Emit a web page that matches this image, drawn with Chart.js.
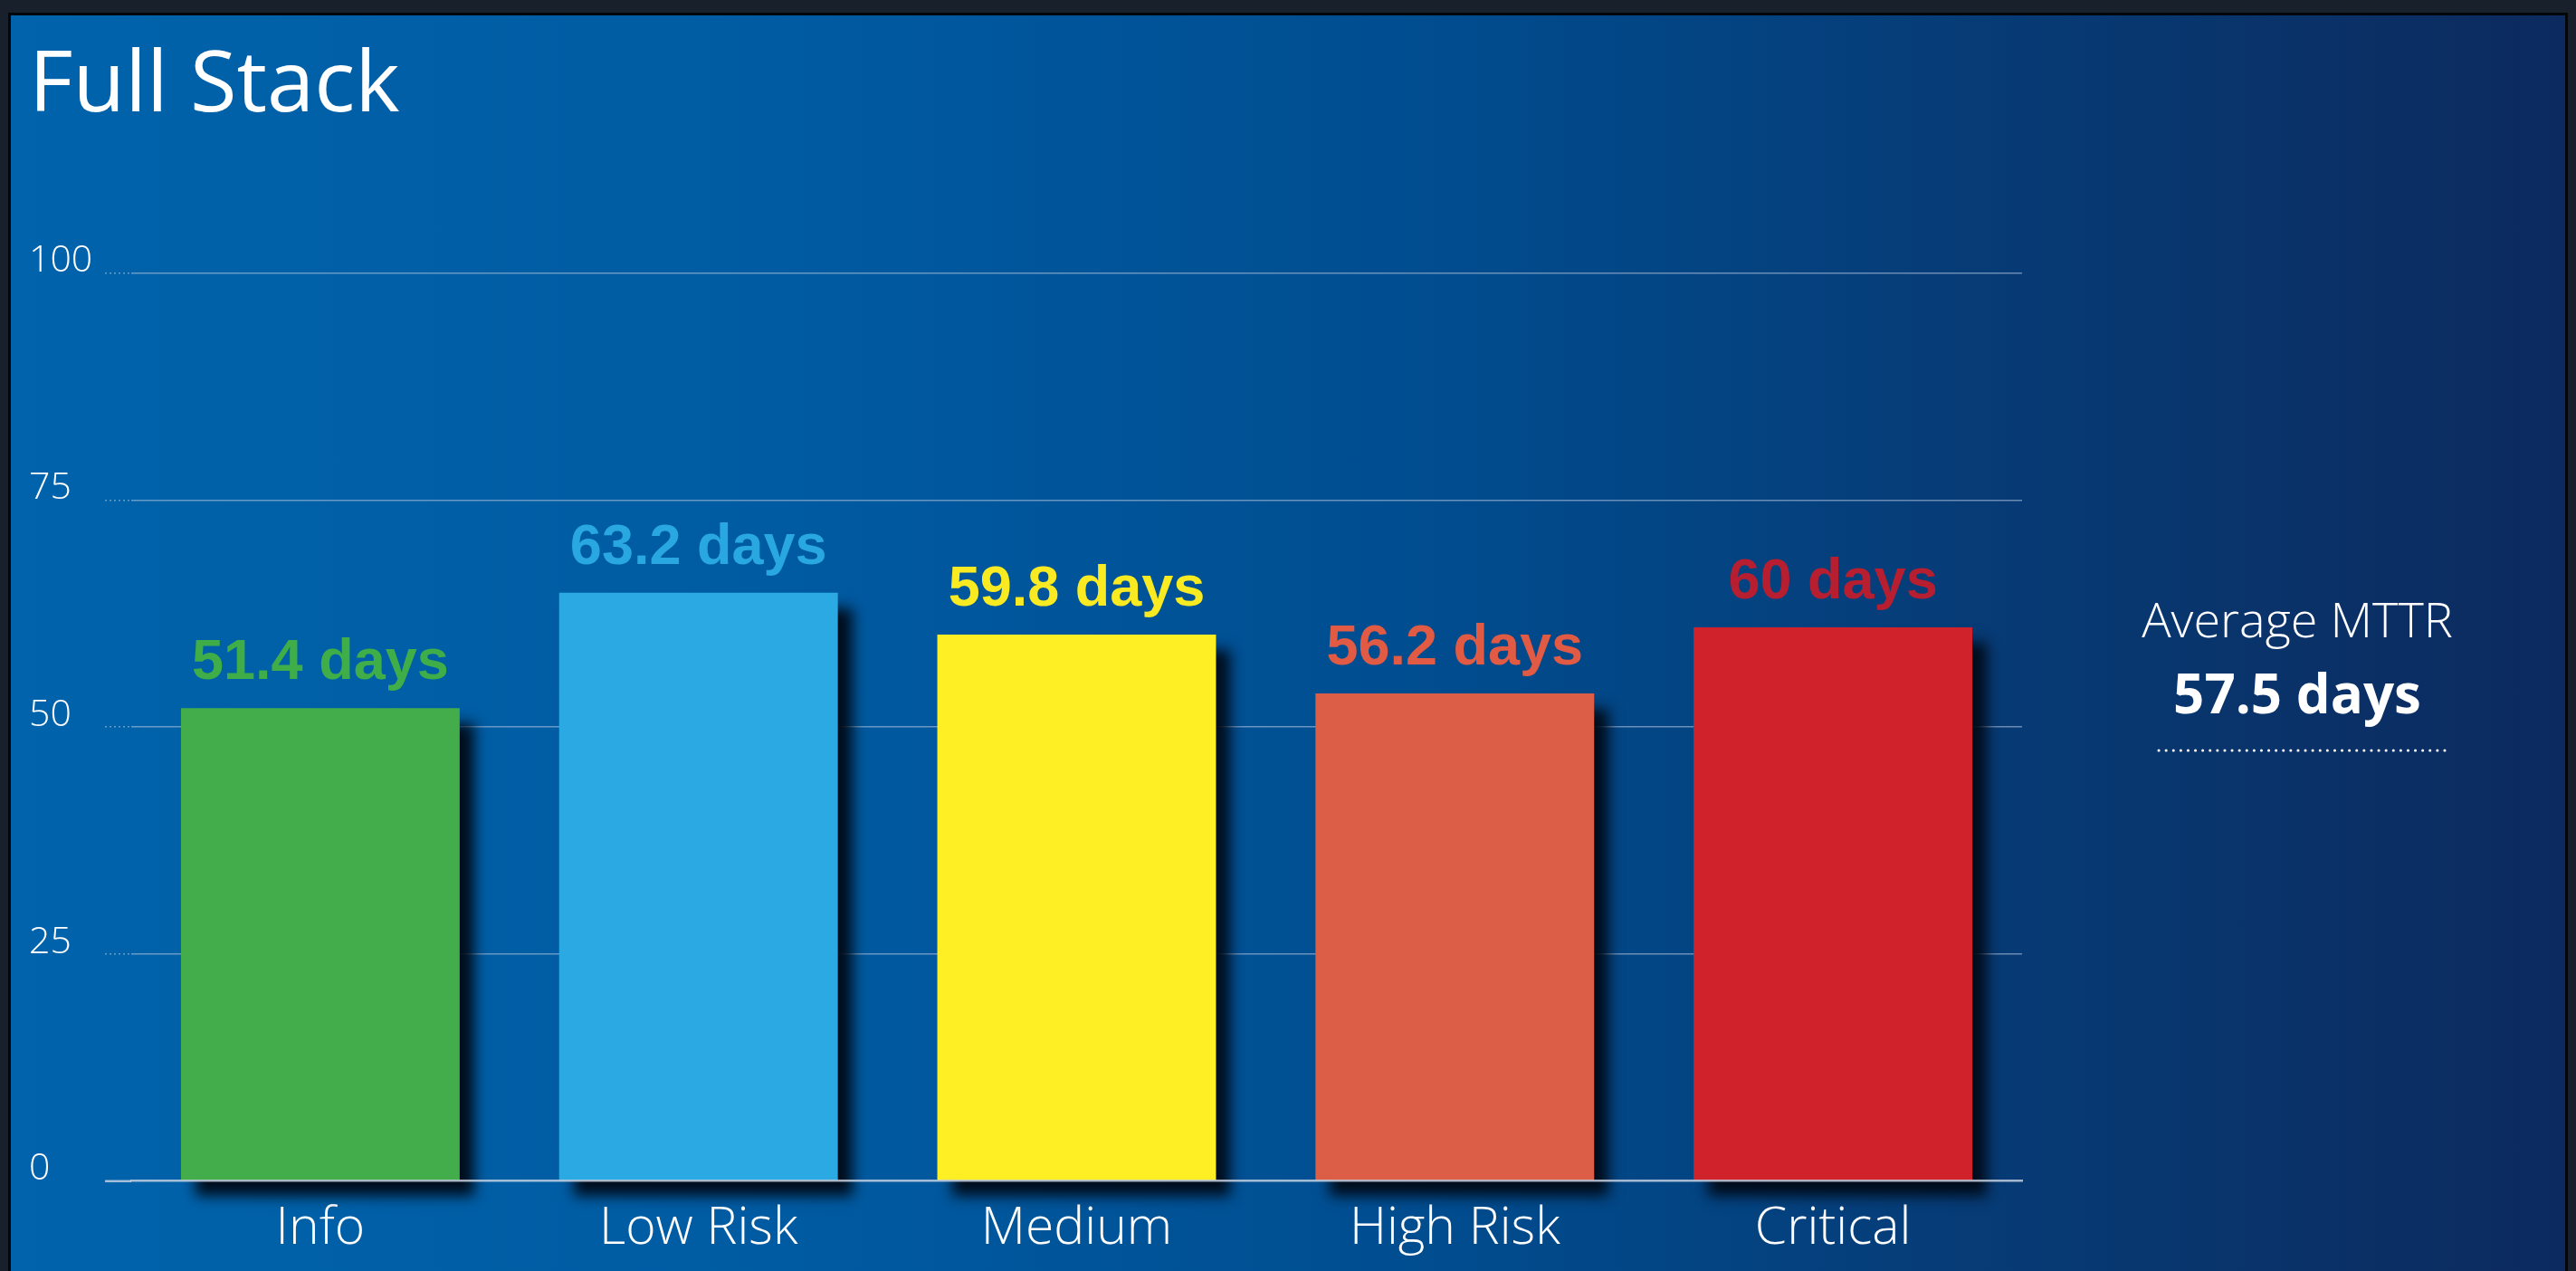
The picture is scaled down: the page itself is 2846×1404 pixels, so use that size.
<!DOCTYPE html>
<html>
<head>
<meta charset="utf-8">
<script src="https://cdn.jsdelivr.net/npm/chart.js@4.4.1/dist/chart.umd.min.js"></script>
<style>
  html, body { margin: 0; padding: 0; background: #18202b; overflow: hidden; }
  #panel {
    position: absolute; left: 9px; top: 14px; width: 2828px; height: 1400px;
    box-sizing: border-box; border: 3px solid #03060a;
    background: linear-gradient(90deg, #0063ab 0%, #005ba2 30%, #004d90 55%, #063d78 75%, #0c2a5e 100%);
  }
  #wrap { position: absolute; left: 0; top: 0; width: 2822px; height: 1394px; }
</style>
</head>
<body>
<div id="panel"><div id="wrap"><canvas id="myChart"></canvas></div></div>
<script>
// categories + values
const categories = ['Info', 'Low Risk', 'Medium', 'High Risk', 'Critical'];
const barHeights = [52.1, 64.8, 60.2, 53.7, 61.0];   // bar tops as drawn
const mttrDays = [51.4, 63.2, 59.8, 56.2, 60];       // printed labels
const averageMttr = 57.5;
const yTicks = [0, 25, 50, 75, 100];

const barColors = ['#42ad4a', '#2aa9e2', '#fdef23', '#dc5e47', '#d0222a'];
const labelColors = ['#3fad48', '#29a7e0', '#f9ea22', '#e05a44', '#b71f31'];

const gridColor = 'rgba(175,195,222,0.6)';
const axisColor = 'rgba(205,215,230,0.8)';
const lightFont = '"Open Sans", Lato, sans-serif';

const barExtras = {
    id: 'barExtras',
    beforeDatasetsDraw(chart) {
        const c = chart.ctx;
        c.save();
        c.shadowColor = 'rgba(0,10,22,0.95)';
        c.shadowBlur = 14;
        c.shadowOffsetX = 16;
        c.shadowOffsetY = 17;
    },
    afterDatasetsDraw(chart) {
        const c = chart.ctx;
        c.restore();
        const meta = chart.getDatasetMeta(0);
        c.save();
        c.font = 'bold 63px "Liberation Sans", Arial, sans-serif';
        c.textAlign = 'center';
        c.textBaseline = 'alphabetic';
        meta.data.forEach((bar, i) => {
            c.fillStyle = labelColors[i];
            c.fillText(mttrDays[i] + ' days', bar.x, bar.y - 32);
        });

        // side box: average MTTR
        const cx = 2526;
        c.fillStyle = '#ffffff';
        c.font = '300 54px ' + lightFont;
        c.fillText('Average MTTR', cx, 687);
        c.font = 'bold 60px "Open Sans", "Liberation Sans", sans-serif';
        c.fillText(averageMttr + ' days', cx, 771);
        c.strokeStyle = '#ffffff';
        c.lineWidth = 3;
        c.lineCap = 'round';
        c.setLineDash([0.1, 8]);
        c.beginPath();
        c.moveTo(2373, 812);
        c.lineTo(2694, 812);
        c.stroke();
        c.restore();
    }
};

const myChart = document.getElementById('myChart');
new Chart(myChart, {
    type: 'bar',
    data: {
        labels: categories,
        datasets: [{
            data: barHeights,
            backgroundColor: barColors,
            borderWidth: 0,
            categoryPercentage: 1,
            barPercentage: 0.737,
            clip: false
        }]
    },
    plugins: [barExtras],
    options: {
        responsive: true,
        maintainAspectRatio: false,
        animation: false,
        devicePixelRatio: 1,
        layout: { padding: { left: 20, right: 600, top: 0, bottom: 0 } },
        plugins: {
            legend: { display: false },
            tooltip: { enabled: false },
            title: {
                display: true,
                text: 'Full Stack',
                align: 'start',
                color: '#ffffff',
                font: { family: '"Open Sans", "Noto Sans", sans-serif', size: 94, weight: 'normal' },
                padding: { top: 23, bottom: 149 }
            }
        },
        scales: {
            x: {
                grid: { display: false, drawTicks: false },
                border: { display: true, color: axisColor, width: 2.5, z: 1 },
                ticks: {
                    color: '#ffffff',
                    padding: 19,
                    maxRotation: 0,
                    font: { family: lightFont, size: 57, weight: '300' }
                }
            },
            y: {
                min: 0,
                max: 100,
                afterBuildTicks: scale => { scale.ticks = yTicks.map(v => ({ value: v })); },
                afterFit: scale => { scale.width = 113; },
                border: { display: false },
                grid: {
                    color: ctx => ctx.tick && ctx.tick.value === 0 ? 'rgba(0,0,0,0)' : gridColor,
                    lineWidth: 1.5,
                    borderDash: [2, 3],
                    drawTicks: true,
                    tickLength: 29,
                    tickColor: ctx => ctx.tick && ctx.tick.value === 0 ? axisColor : gridColor,
                    tickWidth: ctx => ctx.tick && ctx.tick.value === 0 ? 2.5 : 1.5,
                    tickBorderDash: ctx => ctx.tick && ctx.tick.value === 0 ? [] : [2, 3]
                },
                ticks: {
                    color: '#ffffff',
                    crossAlign: 'far',
                    padding: 0,
                    labelOffset: -13,
                    font: { family: lightFont, size: 41, weight: '300' }
                }
            }
        }
    }
});
</script>
</body>
</html>
